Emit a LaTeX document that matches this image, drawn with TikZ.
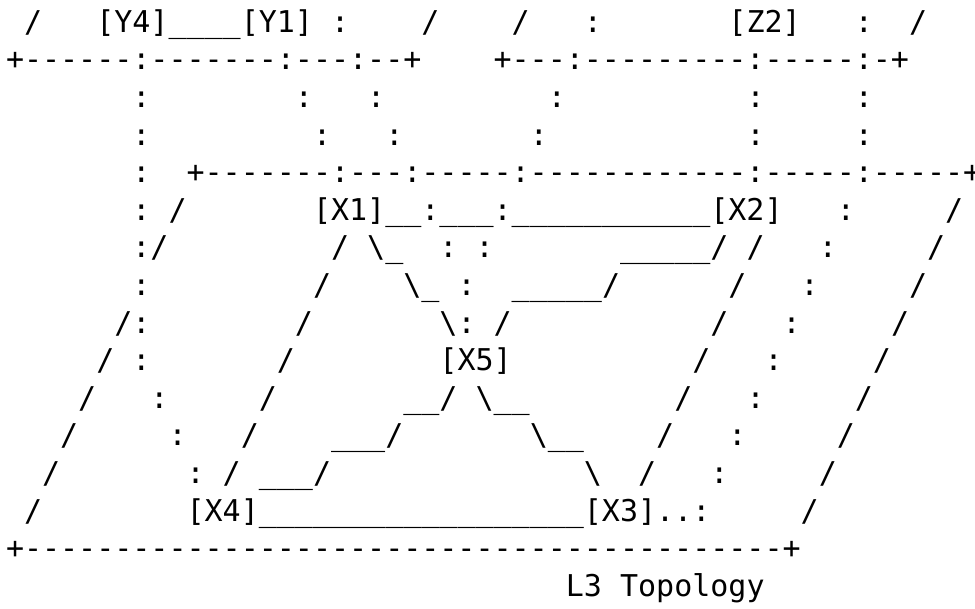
\documentclass[tikz,border=0pt]{standalone}
\usepackage{fontspec}
\setmonofont{DejaVu Sans Mono}
\ExplSyntaxOn
\cs_new:Npn \myrep #1#2 { \prg_replicate:nn {#1} {#2} }
\ExplSyntaxOff
\newcommand\sk[1]{\kern#1\fontcharwd\font`x\relax}
\newcommand\us[1]{\myrep{#1}{\_}}
\newcommand\bs{\textbackslash}
\newcommand\asc{\ttfamily\fontsize{30}{36}\selectfont}
\tikzset{asciirow/.style={anchor=base west, inner sep=0pt, outer sep=0pt, font=\asc, text=black}}
\begin{document}
\begin{tikzpicture}[x=1pt,y=1pt]
\fill[white] (0,0) rectangle (975,609);
\useasboundingbox (0,0) rectangle (975,609);
\node[asciirow] (r1) at (6,576.6) {\sk{1}/\sk{3}[Y4]\us{4}[Y1]\sk{1}:\sk{4}/\sk{4}/\sk{3}:\sk{7}[Z2]\sk{3}:\sk{2}/};
\node[asciirow] (r2) at (6,539.0) {+------:-------:---:--+\sk{4}+---:---------:-----:-+};
\node[asciirow] (r3) at (6,501.4) {\sk{7}:\sk{8}:\sk{3}:\sk{9}:\sk{10}:\sk{5}:};
\node[asciirow] (r4) at (6,463.8) {\sk{7}:\sk{9}:\sk{3}:\sk{7}:\sk{11}:\sk{5}:};
\node[asciirow] (r5) at (6,426.2) {\sk{7}:\sk{2}+-------:---:-----:------------:-----:-----+};
\node[asciirow] (r6) at (6,388.6) {\sk{7}:\sk{1}/\sk{7}[X1]\us{2}:\us{3}:\us{11}[X2]\sk{3}:\sk{5}/};
\node[asciirow] (r7) at (6,351.0) {\sk{7}:/\sk{9}/\sk{1}\bs\_\sk{2}:\sk{1}:\sk{7}\us{5}/\sk{1}/\sk{3}:\sk{5}/};
\node[asciirow] (r8) at (6,313.4) {\sk{7}:\sk{9}/\sk{4}\bs\_\sk{1}:\sk{2}\us{5}/\sk{6}/\sk{3}:\sk{5}/};
\node[asciirow] (r9) at (6,275.8) {\sk{6}/:\sk{8}/\sk{7}\bs:\sk{1}/\sk{11}/\sk{3}:\sk{5}/};
\node[asciirow] (r10) at (6,238.2) {\sk{5}/\sk{1}:\sk{7}/\sk{8}[X5]\sk{10}/\sk{3}:\sk{5}/};
\node[asciirow] (r11) at (6,200.6) {\sk{4}/\sk{3}:\sk{5}/\sk{7}\us{2}/\sk{1}\bs\us{2}\sk{8}/\sk{3}:\sk{5}/};
\node[asciirow] (r12) at (6,163.0) {\sk{3}/\sk{5}:\sk{3}/\sk{4}\us{3}/\sk{7}\bs\us{2}\sk{4}/\sk{3}:\sk{5}/};
\node[asciirow] (r13) at (6,125.4) {\sk{2}/\sk{7}:\sk{1}/\sk{1}\us{3}/\sk{14}\bs\sk{2}/\sk{3}:\sk{5}/};
\node[asciirow] (r14) at (6,87.8) {\sk{1}/\sk{8}[X4]\us{18}[X3]..:\sk{5}/};
\node[asciirow] (r15) at (6,50.2) {+\myrep{42}{-}+};
\node[asciirow] (r16) at (6,12.6) {\sk{31}L3\sk{1}Topology};
\end{tikzpicture}
\end{document}
